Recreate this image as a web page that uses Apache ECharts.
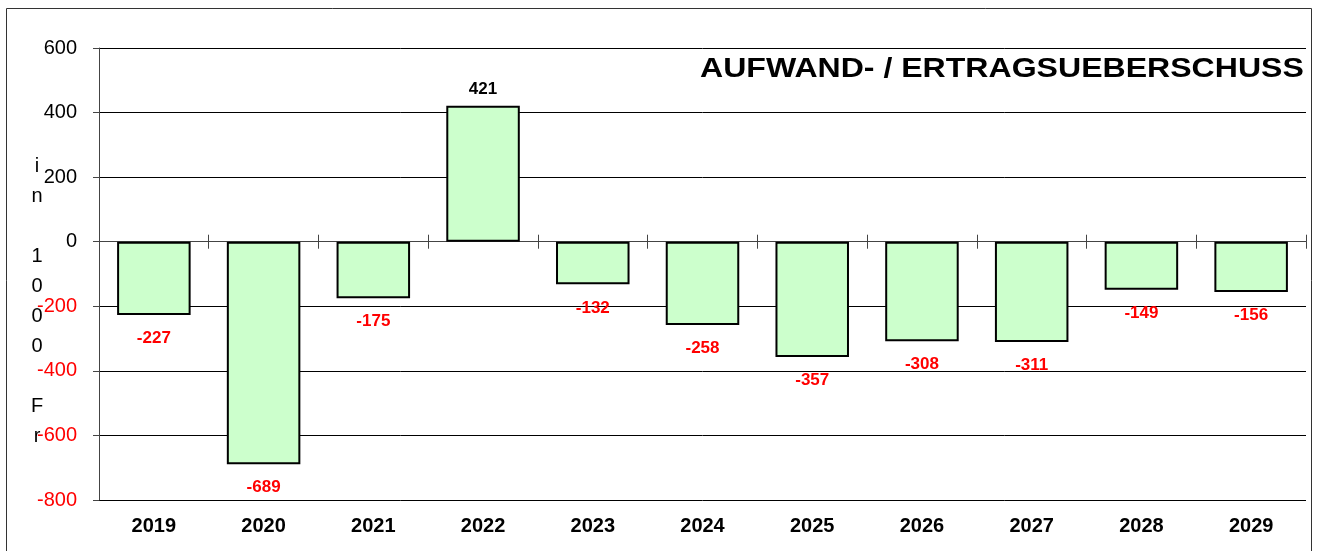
<!DOCTYPE html>
<html lang="de">
  <head>
    <meta charset="UTF-8" />
    <title>Aufwand- / Ertragsueberschuss</title>
    <script src="https://cdn.jsdelivr.net/npm/echarts@6/dist/echarts.min.js"></script>
    <style>
      html, body { margin: 0; padding: 0; background: #fff; }
    </style>
  </head>
  <body>
    <div id="main" style="width: 1317px; height: 551px"></div>
    <script type="text/javascript">
      // data (in 1000 Fr.)
      const years = ["2019", "2020", "2021", "2022", "2023", "2024", "2025", "2026", "2027", "2028", "2029"];
      const surplus = [-227, -689, -175, 421, -132, -258, -357, -308, -311, -149, -156];
      const yTicks = { min: -800, max: 600, step: 200 };

      const font = "Arial, 'Liberation Sans', sans-serif";

      // positive bars get black labels on top, negative ones red labels below
      const barData = surplus.map((v) => ({
        value: v,
        label: {
          position: v >= 0 ? "top" : "bottom",
          distance: v >= 0 ? 8 : 15,
          color: v >= 0 ? "#000" : "#ff0000",
        },
      }));

      // the zero line carries ticks on both sides: one axis ticks down, the other up
      const tickAxis = (pos, yIdx) => ({
        type: "category",
        data: years,
        position: pos,
        axisLine: { onZero: true, onZeroAxisIndex: yIdx, lineStyle: { color: "#444", width: 1 } },
        axisTick: { show: true, length: 7, lineStyle: { color: "#444" } },
        axisLabel: { show: false },
        splitLine: { show: false },
      });

      const valueAxis = (shown) => ({
        type: "value",
        show: shown,
        min: yTicks.min,
        max: yTicks.max,
        interval: yTicks.step,
        axisLine: { show: true, lineStyle: { color: "#444" } },
        axisTick: { show: true, length: 6, lineStyle: { color: "#444" } },
        axisLabel: {
          fontFamily: font,
          fontSize: 20,
          margin: 22,
          color: (v) => (Number(v) < 0 ? "#ff0000" : "#000"),
        },
        splitLine: { show: shown, lineStyle: { color: "#000", width: 1 } },
      });

      let myChart = echarts.init(document.getElementById("main"));

      let options = {
        animation: false,
        backgroundColor: "#fff",
        grid: { left: 99, right: 11, top: 48, bottom: 51 },
        xAxis: [
          {
            type: "category",
            data: years,
            position: "bottom",
            axisLine: { show: false, onZero: false },
            axisTick: { show: false },
            axisLabel: {
              fontFamily: font,
              fontSize: 20,
              fontWeight: "bold",
              color: "#000",
              margin: 16,
            },
          },
          tickAxis("bottom", 0),
          tickAxis("top", 1),
        ],
        yAxis: [valueAxis(true), valueAxis(false)],
        series: [
          {
            name: "Ueberschuss",
            type: "bar",
            xAxisIndex: 0,
            yAxisIndex: 0,
            data: barData,
            barWidth: "67%",
            itemStyle: { color: "#ccffcc", borderColor: "#000", borderWidth: 2 },
            label: {
              show: true,
              fontFamily: font,
              fontSize: 17,
              fontWeight: "bold",
            },
          },
        ],
        graphic: [
          {
            type: "rect",
            shape: { x: 6.5, y: 8.5, width: 1305, height: 600 },
            style: { fill: null, stroke: "#333", lineWidth: 1 },
            silent: true,
          },
          {
            type: "text",
            x: 700,
            y: 55,
            scaleX: 1.145,
            style: {
              text: "AUFWAND- / ERTRAGSUEBERSCHUSS",
              font: "bold 28px " + font,
              align: "left",
              verticalAlign: "top",
              fill: "#000",
            },
          },
          {
            type: "text",
            x: 37,
            y: 151,
            style: {
              text: "i\nn\n \n1\n0\n0\n0\n \nF\nr",
              font: "20px " + font,
              lineHeight: 30,
              align: "center",
              verticalAlign: "top",
              fill: "#000",
            },
          },
        ],
      };

      myChart.setOption(options);
    </script>
  </body>
</html>
